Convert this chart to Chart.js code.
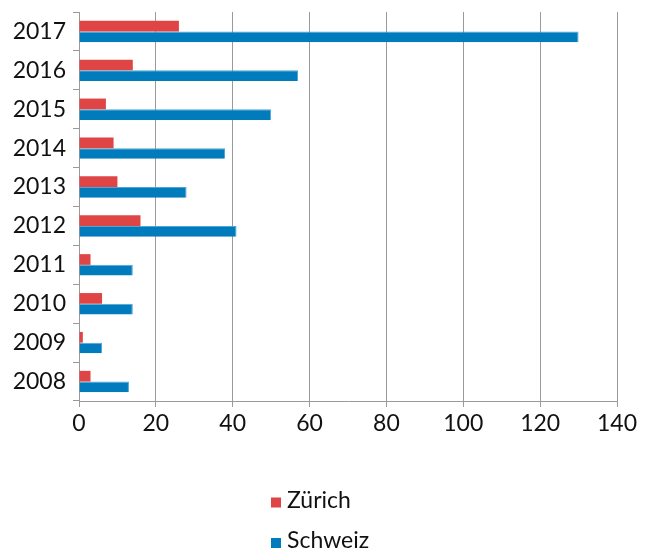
<!DOCTYPE html>
<html>
<head>
<meta charset="utf-8">
<script src="https://cdn.jsdelivr.net/npm/chart.js@4"></script>
<style>
  html, body { margin: 0; padding: 0; background: #fff; }
  #wrap { width: 653px; height: 549px; position: relative; }
</style>
</head>
<body>
<div id="wrap"><canvas id="c"></canvas></div>
<script>
const years = ['2008', '2009', '2010', '2011', '2012', '2013', '2014', '2015', '2016', '2017'];
const zuerich = [3, 1, 6, 3, 16, 10, 9, 7, 14, 26];
const schweiz = [13, 6, 14, 14, 41, 28, 38, 50, 57, 130];
const seriesNames = ['Zürich', 'Schweiz'];
const xMax = 140;
const xStep = 20;

const FONT = 'Lato, "Open Sans", sans-serif';
const GRID = '#9a9a9a';

const stackedLegend = {
  id: 'stackedLegend',
  afterDraw(chart) {
    const ctx = chart.ctx;
    ctx.save();
    ctx.font = '23px ' + FONT;
    ctx.textBaseline = 'alphabetic';
    const x0 = 271;
    const baselines = [507.5, 548];
    chart.data.datasets.forEach((ds, i) => {
      const b = baselines[i];
      ctx.fillStyle = ds.backgroundColor;
      ctx.fillRect(x0, b - 10, 10, 10);
      ctx.fillStyle = '#111';
      ctx.fillText(ds.label, x0 + 16, b);
    });
    ctx.restore();
  }
};

new Chart(document.getElementById('c'), {
  type: 'bar',
  data: {
    labels: years,
    datasets: [
      { label: seriesNames[0], data: zuerich, backgroundColor: '#E04545', borderWidth: 0 },
      { label: seriesNames[1], data: schweiz, backgroundColor: '#007BBB', borderColor: '#4FA6D6', borderWidth: {top: 1, right: 1, bottom: 0, left: 0} }
    ]
  },
  options: {
    indexAxis: 'y',
    responsive: true,
    maintainAspectRatio: false,
    animation: false,
    categoryPercentage: 0.55,
    barPercentage: 1.0,
    layout: { padding: { left: 0, top: 12, right: 36, bottom: 108 } },
    plugins: {
      legend: { display: false },
      tooltip: { enabled: false }
    },
    scales: {
      x: {
        min: 0,
        max: xMax,
        ticks: { stepSize: xStep, color: '#111', font: { family: FONT, size: 23 }, padding: 3 },
        grid: { color: GRID, lineWidth: 1, tickLength: 6, drawTicks: true },
        border: { color: GRID, width: 1 },
        afterFit(scale) { scale.height = 40; }
      },
      y: {
        reverse: true,
        ticks: { color: '#111', font: { family: FONT, size: 23 }, padding: 7 },
        grid: { drawOnChartArea: false, drawTicks: true, tickLength: 6, offset: true, color: GRID },
        border: { color: GRID, width: 1 },
        afterFit(scale) { scale.width = 79; scale.paddingTop = 0; scale.paddingBottom = 0; }
      }
    }
  },
  plugins: [stackedLegend]
});
</script>
</body>
</html>
